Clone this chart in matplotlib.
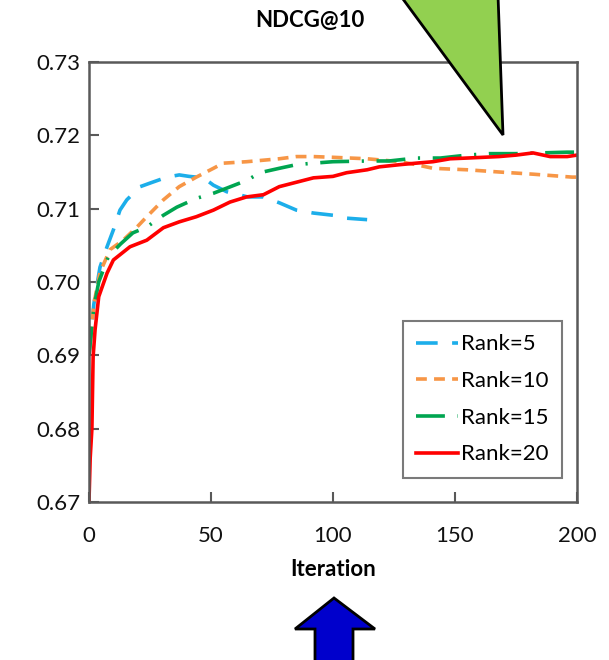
import matplotlib
matplotlib.use("Agg")
import matplotlib.pyplot as plt
from matplotlib.patches import Polygon

plt.rcParams['font.family'] = ['Lato', 'DejaVu Sans']

# values
x5 = [0, 2, 4.5, 7.4, 10, 12.7, 15.5, 21, 26, 32, 37, 41, 47, 51, 56.5, 65, 71.5, 78, 85, 92, 100, 105.6, 114]
y5 = [0.690, 0.697, 0.702, 0.7048, 0.7071, 0.7098, 0.7112, 0.7130, 0.7136, 0.7143, 0.7146, 0.7144, 0.7142,
      0.7132, 0.7123, 0.7116, 0.7116, 0.7108, 0.7098, 0.7094, 0.7091, 0.7087, 0.7085]

x10 = [0, 2, 4.5, 8.6, 14, 19.7, 23.7, 30.5, 37, 44, 51, 55, 64.6, 78, 85, 92, 100, 114, 127.5, 134, 141,
       155, 168, 182, 198, 200]
y10 = [0.690, 0.697, 0.7013, 0.7044, 0.7057, 0.7075, 0.7089, 0.7112, 0.7130, 0.7143, 0.7155, 0.7162, 0.7164,
       0.7168, 0.7171, 0.7171, 0.7170, 0.7168, 0.7164, 0.7160, 0.7155, 0.7153, 0.7150, 0.7147, 0.7143, 0.7143]

x15 = [0, 2, 4, 8, 13, 18, 23.7, 30.5, 36, 44, 51, 56.5, 65, 70, 78, 85, 92, 100, 114, 123, 134, 144, 155,
       164, 175, 185, 196, 200]
y15 = [0.690, 0.6965, 0.700, 0.7035, 0.7052, 0.7067, 0.7075, 0.7091, 0.7102, 0.7114, 0.7121, 0.7128, 0.7139,
       0.7149, 0.7155, 0.7160, 0.7162, 0.7164, 0.7165, 0.7165, 0.7169, 0.7169, 0.7173, 0.7175, 0.7175,
       0.7176, 0.7177, 0.7177]

x20 = [0, 0.5, 1.2, 1.7, 2.5, 4, 7.4, 10, 16.8, 23.7, 30.5, 37, 44, 51, 57.8, 64.6, 71.5, 78, 85, 92, 100,
       105.6, 114, 119, 127.5, 134, 141, 148, 155, 161.5, 168, 175, 182, 189, 196, 200]
y20 = [0.670, 0.676, 0.680, 0.6898, 0.6935, 0.698, 0.7012, 0.7030, 0.7048, 0.7057, 0.7074, 0.7082, 0.7089,
       0.7098, 0.7109, 0.7116, 0.7119, 0.7130, 0.7136, 0.7142, 0.7144, 0.7149, 0.7153, 0.7157, 0.7160,
       0.7162, 0.7164, 0.7168, 0.7169, 0.7170, 0.7171, 0.7173, 0.7176, 0.7171, 0.7171, 0.7173]

fig = plt.figure(figsize=(6.09, 6.60), dpi=100)
ax = fig.add_axes([0.1461, 0.2394, 0.8013, 0.6667])

ax.plot(x5, y5, color='#1CAEEA', lw=2.6, dashes=(6, 4), label='Rank=5')
ax.plot(x10, y10, color='#F79646', lw=2.6, dashes=(3, 2), label='Rank=10')
ax.plot(x15, y15, color='#00A550', lw=2.6, dashes=(8, 3.5, 0.6, 3.5), label='Rank=15')
ax.plot(x20, y20, color='#FF0000', lw=2.6, label='Rank=20')

ax.set_xlim(0, 200)
ax.set_ylim(0.67, 0.73)
ax.set_xticks([0, 50, 100, 150, 200])
ax.set_yticks([0.67, 0.68, 0.69, 0.70, 0.71, 0.72, 0.73])
ax.set_yticklabels(['0.67', '0.68', '0.69', '0.70', '0.71', '0.72', '0.73'])
ax.tick_params(direction='in', length=7, width=1.5, color='#595959', labelsize=16, labelcolor='#111111')
ax.tick_params(axis='y', pad=6)
ax.tick_params(axis='x', pad=17)
for s in ax.spines.values():
    s.set_color('#595959')
    s.set_linewidth(1.8)

leg = ax.legend(loc='lower right', bbox_to_anchor=(0.97, 0.055), fontsize=16, frameon=True,
                fancybox=False, handlelength=1.9, handletextpad=0.15, labelspacing=0.75,
                borderpad=0.6, borderaxespad=0)
leg.get_frame().set_edgecolor('#595959')
leg.get_frame().set_linewidth(1.5)

fig.text(310 / 609, 1 - 20 / 660, 'NDCG@10', fontsize=16, fontweight='bold', ha='center', va='center')
fig.text(333 / 609, 1 - 570 / 660, 'Iteration', fontsize=16, fontweight='bold', ha='center', va='center')

W, H = 609, 660
tri = [(400, -5), (498, -5), (503, 135)]
fig.patches.append(Polygon([(px / W, 1 - py / H) for px, py in tri], closed=True, transform=fig.transFigure,
                           facecolor='#92D050', edgecolor='black', lw=2, zorder=5))
arrow = [(334, 598), (295, 629), (315, 629), (315, 665), (353, 665), (353, 629), (375, 629)]
fig.patches.append(Polygon([(px / W, 1 - py / H) for px, py in arrow], closed=True, transform=fig.transFigure,
                           facecolor='#0000CC', edgecolor='black', lw=2, zorder=5))

fig.savefig('out.png', dpi=100)
